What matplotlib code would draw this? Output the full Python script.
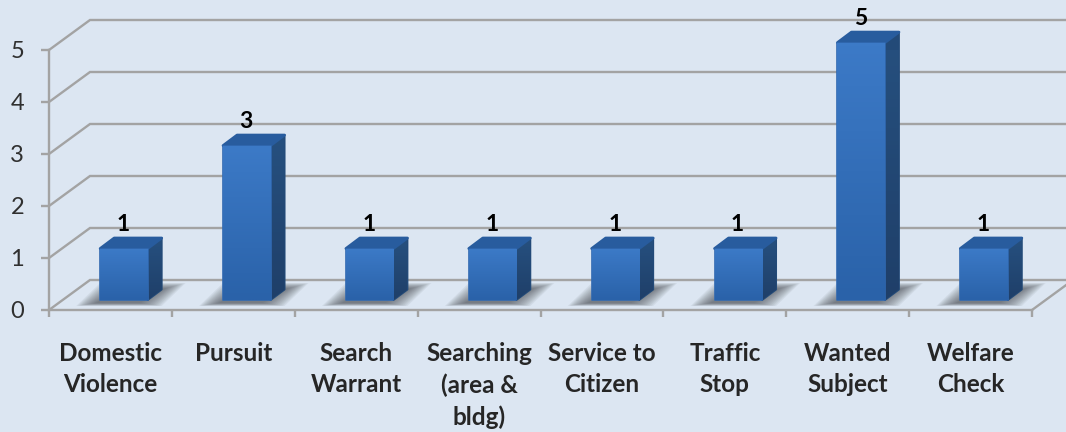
import numpy as np
import matplotlib
matplotlib.use("Agg")
import matplotlib.pyplot as plt
from matplotlib.colors import LinearSegmentedColormap
from matplotlib.patches import Polygon

# chart data
categories = ["Domestic\nViolence", "Pursuit", "Search\nWarrant", "Searching\n(area &\nbldg)",
              "Service to\nCitizen", "Traffic\nStop", "Wanted\nSubject", "Welfare\nCheck"]
values = [1, 3, 1, 1, 1, 1, 5, 1]
y_ticks = [0, 1, 2, 3, 4, 5]

# pixel geometry of the fake 3d box
W, H = 1066, 432
px_x = 122.9   # pixels per category
px_y = 52.0    # pixels per unit
wall_dx = 41 / px_x
wall_dy = 30 / px_y
front_dx = 13.5 / px_x
front_dy = 10 / px_y
bar_w = 47.5 / px_x
side_dx = 14 / px_x
side_dy = 10.5 / px_y
bar_scale = 0.99

bg = "#dce6f2"
grid = "#a3a3a3"
plt.rcParams["font.family"] = ["Lato", "DejaVu Sans"]

fig = plt.figure(figsize=(W / 100, H / 100), dpi=100, facecolor=bg)
ax = fig.add_axes([49 / W, (H - 310) / H, 983 / W, 260 / H], facecolor="none")
ax.set_xlim(0, 8)
ax.set_ylim(0, 5)

# gridlines on the back wall and the side wall
for t in y_ticks:
    ax.plot([0, wall_dx, 8 + wall_dx], [t, t + wall_dy, t + wall_dy], color=grid, lw=1.7,
            clip_on=False, zorder=1, solid_joinstyle="miter")
ax.plot([8, 8 + wall_dx], [0, wall_dy], color=grid, lw=1.7, clip_on=False, zorder=1)

# shadows on the floor, nested polygons so the edge looks soft
layers = 14
for i, v in enumerate(values):
    left = i + 0.5 + front_dx - bar_w / 2
    right = left + bar_w
    for k in range(layers):
        f = k / (layers - 1)   # 0 is the outer polygon
        x0 = left - (24 - 20 * f) / px_x
        x1 = right + (38 - 22 * f) / px_x
        y0 = (4 + 3 * f) / px_y
        y1 = (27 - 6 * f) / px_y
        skew = 24 / px_x
        ax.add_patch(Polygon([[x0, y0], [x1 - skew, y0], [x1, y1], [x0 + skew, y1]],
                             closed=True, fc="#4c5058", ec="none", alpha=0.08,
                             zorder=2, clip_on=False))

# bars: front face with gradient, side and top faces
front_cmap = LinearSegmentedColormap.from_list("front", ["#2a62a9", "#3c7ac7"])
side_cmap = LinearSegmentedColormap.from_list("side", ["#1f3f69", "#26507f"])
grad = np.linspace(0, 1, 64).reshape(-1, 1)

for i, v in enumerate(values):
    h = v * bar_scale
    x0 = i + 0.5 + front_dx - bar_w / 2
    x1 = x0 + bar_w
    y0 = front_dy
    y1 = y0 + h

    side = Polygon([[x1, y0], [x1 + side_dx, y0 + side_dy], [x1 + side_dx, y1 + side_dy], [x1, y1]],
                   closed=True, fc="#234a78", ec="#234a78", lw=1.4, joinstyle="round",
                   zorder=3 + i, clip_on=False)
    ax.add_patch(side)
    im = ax.imshow(grad, extent=[x1, x1 + side_dx, y0, y1 + side_dy], origin="lower",
                   cmap=side_cmap, aspect="auto", zorder=3 + i)
    im.set_clip_path(side)

    top = Polygon([[x0, y1], [x0 + side_dx, y1 + side_dy], [x1 + side_dx, y1 + side_dy], [x1, y1]],
                  closed=True, fc="#285c9e", ec="#285c9e", lw=2, joinstyle="round",
                  zorder=3.2 + i, clip_on=False)
    ax.add_patch(top)

    face = ax.bar(i + 0.5 + front_dx, h, width=bar_w, bottom=y0, color="#3570b8",
                  edgecolor="#3169b1", lw=1.2, joinstyle="round", zorder=3.4 + i, clip_on=False)[0]
    im2 = ax.imshow(grad, extent=[x0, x1, y0, y1], origin="lower", cmap=front_cmap,
                    aspect="auto", zorder=3.5 + i)
    im2.set_clip_path(face)

    # value label above the bar
    ax.annotate(str(v), (i + 0.5 + front_dx, y1 + side_dy), xytext=(-0.5, 2.5),
                textcoords="offset points", ha="center", va="bottom", fontsize=16.5,
                fontweight="bold", color="black", zorder=20, annotation_clip=False)

ax.set_xlim(0, 8)
ax.set_ylim(0, 5)

# axes
for name in ["top", "right"]:
    ax.spines[name].set_visible(False)
for name in ["left", "bottom"]:
    ax.spines[name].set_color(grid)
    ax.spines[name].set_linewidth(1.7)
    ax.spines[name].set_zorder(2.5)

ax.set_yticks(y_ticks)
ax.set_xticks(np.arange(9))
ax.set_xticklabels([])
ax.set_xticks(np.arange(8) + 0.5, labels=categories, minor=True)
ax.tick_params(axis="y", length=6, width=1.7, color=grid, labelsize=17, labelcolor="#303030", pad=12)
ax.tick_params(axis="x", which="major", length=5, width=1.7, color=grid)
ax.tick_params(axis="x", which="minor", length=0, pad=23, labelsize=17.5, labelcolor="#262626")
for label in ax.get_xticklabels(minor=True):
    label.set_fontweight("bold")
    label.set_linespacing(1.42)
    label.set_ha("center")

fig.savefig("out.png", dpi=100, facecolor=bg)
